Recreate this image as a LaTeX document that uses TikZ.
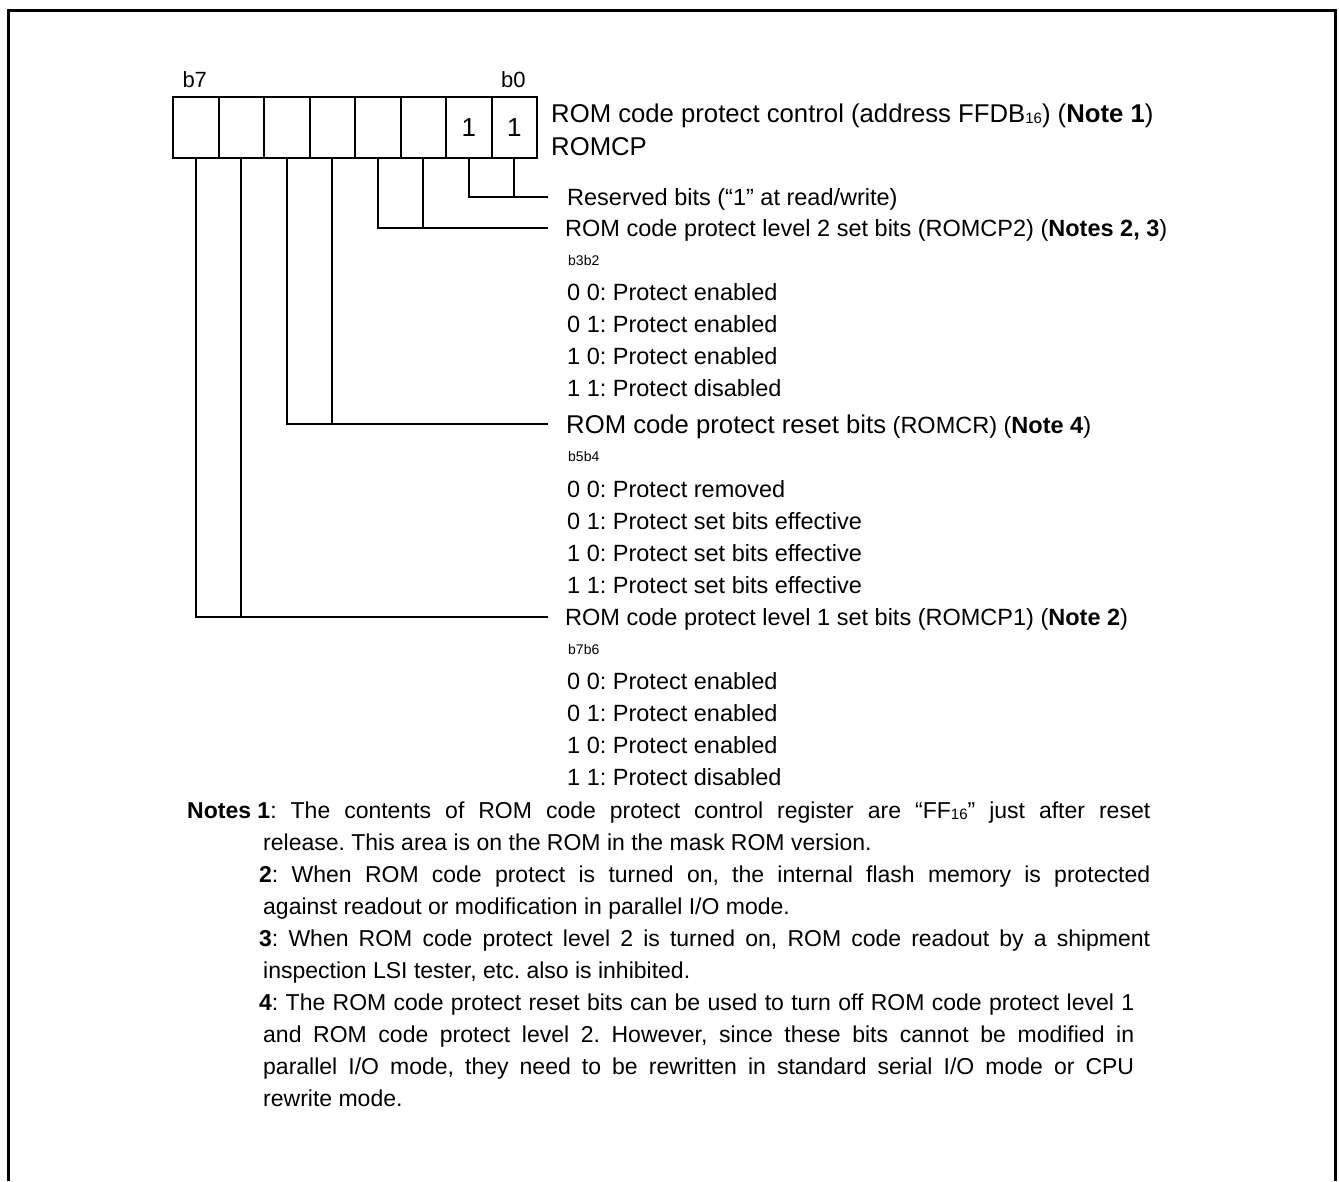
\documentclass[tikz,border=0pt]{standalone}
\usepackage{fontspec}
\setmainfont{Liberation Sans}
\frenchspacing
\newcommand\mysub[1]{\raisebox{-1.5pt}{\fontsize{15}{15}\selectfont #1}}
\begin{document}
\begin{tikzpicture}[x=1pt,y=-1pt,
  bitbox/.style={draw,line width=2pt,minimum width=45.5pt,minimum height=61pt,inner sep=0pt,anchor=north west,font=\fontsize{26}{30}\selectfont},
  conn/.style={line width=2pt},
  txt/.style={anchor=base west,inner sep=0pt,font=\fontsize{23.5}{28}\selectfont},
  big/.style={anchor=base west,inner sep=0pt,font=\fontsize{25.7}{30}\selectfont},
  small/.style={anchor=base west,inner sep=0pt,font=\fontsize{14}{16}\selectfont},
  bitlbl/.style={anchor=base,inner sep=0pt,font=\fontsize{22}{24}\selectfont},
  note/.style={anchor=base west,inner sep=0pt,font=\fontsize{23}{28}\selectfont},
  frame/.style={line width=3pt}]
\useasboundingbox (0,0) rectangle (1339,1181);
\draw[frame] (8,1181) -- (8,10) -- (1335,10) -- (1335,1181);

% register
\node[bitbox] (r7) at (172,96) {};
\node[bitbox] (r6) at (217.5,96) {};
\node[bitbox] (r5) at (263,96) {};
\node[bitbox] (r4) at (308.5,96) {};
\node[bitbox] (r3) at (354,96) {};
\node[bitbox] (r2) at (399.5,96) {};
\node[bitbox] (r1) at (445,96) {\raisebox{-2pt}{1}};
\node[bitbox] (r0) at (490.5,96) {\raisebox{-2pt}{1}};
\node[bitlbl] (b7l) at (194.75,87) {b7};
\node[bitlbl] (b0l) at (513.25,87) {b0};

% connector ends
\coordinate (e0) at (548,197);
\coordinate (e1) at (548,228);
\coordinate (e2) at (548,424);
\coordinate (e3) at (548,617);
\draw[conn] (r1.south) |- (e0);
\draw[conn] (r0.south) -- (r0.south |- e0);
\draw[conn] (r3.south) |- (e1);
\draw[conn] (r2.south) -- (r2.south |- e1);
\draw[conn] (r5.south) |- (e2);
\draw[conn] (r4.south) -- (r4.south |- e2);
\draw[conn] (r7.south) |- (e3);
\draw[conn] (r6.south) -- (r6.south |- e3);

% register title
\node[big] (t1) at (551,122) {ROM code protect control (address FFDB\mysub{16}) (\textbf{Note 1})};
\node[big] (t2) at (551,155) {ROMCP};

% reserved
\node[txt] (l0) at (567,205) {Reserved bits (“1” at read/write)};

% ROMCP2
\node[txt] (l1) at (565,236) {ROM code protect level 2 set bits (ROMCP2) (\textbf{Notes 2, 3})};
\node[small] (l1h) at (568,265) {b3b2};
\node[txt] (l1a) at (567,300) {0 0: Protect enabled};
\node[txt] (l1b) at (567,332) {0 1: Protect enabled};
\node[txt] (l1c) at (567,364) {1 0: Protect enabled};
\node[txt] (l1d) at (567,396) {1 1: Protect disabled};

% ROMCR
\node[txt] (l2) at (566,433) {{\fontsize{25.7}{30}\selectfont ROM code protect reset bits} (ROMCR) (\textbf{Note 4})};
\node[small] (l2h) at (568,461) {b5b4};
\node[txt] (l2a) at (567,497) {0 0: Protect removed};
\node[txt] (l2b) at (567,529) {0 1: Protect set bits effective};
\node[txt] (l2c) at (567,561) {1 0: Protect set bits effective};
\node[txt] (l2d) at (567,593) {1 1: Protect set bits effective};

% ROMCP1
\node[txt] (l3) at (565,625) {ROM code protect level 1 set bits (ROMCP1) (\textbf{Note 2})};
\node[small] (l3h) at (568,654) {b7b6};
\node[txt] (l3a) at (567,689) {0 0: Protect enabled};
\node[txt] (l3b) at (567,721) {0 1: Protect enabled};
\node[txt] (l3c) at (567,753) {1 0: Protect enabled};
\node[txt] (l3d) at (567,785) {1 1: Protect disabled};

% notes
\node[note] (n1a) at (187,818) {\makebox[963pt][s]{\mbox{\textbf{Notes 1}:} The contents of ROM code protect control register are “FF\mysub{16}” just after reset}};
\node[note] (n1b) at (263,850) {release. This area is on the ROM in the mask ROM version.};
\node[note] (n2a) at (259,882) {\makebox[891pt][s]{\textbf{2}: When ROM code protect is turned on, the internal flash memory is protected}};
\node[note] (n2b) at (263,914) {against readout or modification in parallel I/O mode.};
\node[note] (n3a) at (259,946) {\makebox[891pt][s]{\textbf{3}: When ROM code protect level 2 is turned on, ROM code readout by a shipment}};
\node[note] (n3b) at (263,978) {inspection LSI tester, etc. also is inhibited.};
\node[note] (n4a) at (259,1010) {\makebox[875pt][s]{\textbf{4}: The ROM code protect reset bits can be used to turn off ROM code protect level 1}};
\node[note] (n4b) at (263,1042) {\makebox[871pt][s]{and ROM code protect level 2. However, since these bits cannot be modified in}};
\node[note] (n4c) at (263,1074) {\makebox[871pt][s]{parallel I/O mode, they need to be rewritten in standard serial I/O mode or CPU}};
\node[note] (n4d) at (263,1106) {rewrite mode.};
\end{tikzpicture}
\end{document}
